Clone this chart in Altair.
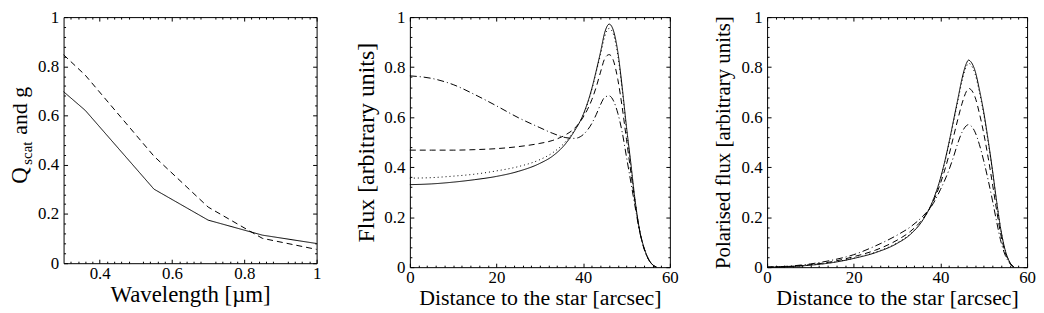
import altair as alt
import pandas as pd

FONT = "Liberation Serif"
LABEL_SIZE = 17

# ---------------- Panel 1: Q_scat and g vs wavelength ----------------
wavelength = [0.30, 0.36, 0.55, 0.70, 0.85, 1.00]
q_scat = [0.697, 0.621, 0.301, 0.175, 0.114, 0.080]
g_param = [0.847, 0.764, 0.435, 0.228, 0.101, 0.056]

# ---------------- Panel 2: Flux vs distance ----------------
dist_flux = [0, 5, 10, 15, 20, 25, 30, 33, 36, 38, 40, 42, 43, 44, 45, 46, 47,
             48, 49, 50, 51, 52, 53, 54, 55, 56, 57]
flux_solid = [0.330, 0.333, 0.340, 0.350, 0.363, 0.383, 0.415, 0.445, 0.495, 0.545,
              0.610, 0.715, 0.785, 0.860, 0.940, 0.972, 0.945, 0.860, 0.720, 0.560,
              0.415, 0.265, 0.150, 0.080, 0.035, 0.010, 0.000]
flux_dotted = [0.356, 0.358, 0.364, 0.372, 0.385, 0.402, 0.430, 0.458, 0.503, 0.548,
               0.608, 0.710, 0.780, 0.850, 0.925, 0.955, 0.930, 0.845, 0.710, 0.550,
               0.405, 0.260, 0.148, 0.078, 0.034, 0.010, 0.000]
flux_dashed = [0.468, 0.468, 0.468, 0.470, 0.474, 0.482, 0.495, 0.507, 0.530, 0.555,
               0.600, 0.670, 0.720, 0.780, 0.835, 0.850, 0.825, 0.750, 0.640, 0.510,
               0.380, 0.255, 0.148, 0.078, 0.034, 0.010, 0.000]
flux_dashdot = [0.765, 0.755, 0.730, 0.690, 0.645, 0.598, 0.558, 0.535, 0.518, 0.515,
                0.530, 0.575, 0.610, 0.650, 0.680, 0.685, 0.665, 0.615, 0.540, 0.440,
                0.340, 0.240, 0.145, 0.076, 0.033, 0.010, 0.000]

# ---------------- Panel 3: Polarised flux vs distance ----------------
dist_pol = [0, 5, 10, 15, 20, 25, 30, 33, 36, 38, 40, 42, 43, 44, 45, 46, 46.5, 47,
            48, 49, 50, 51, 52, 53, 54, 55, 56, 57]
pol_solid = [0.000, 0.002, 0.008, 0.018, 0.035, 0.058, 0.095, 0.130, 0.190, 0.255,
             0.355, 0.500, 0.585, 0.670, 0.755, 0.815, 0.828, 0.822, 0.785, 0.710,
             0.620, 0.510, 0.390, 0.260, 0.145, 0.065, 0.020, 0.000]
pol_dotted = [0.000, 0.002, 0.008, 0.019, 0.036, 0.060, 0.097, 0.132, 0.191, 0.255,
              0.352, 0.495, 0.578, 0.662, 0.745, 0.803, 0.815, 0.810, 0.773, 0.700,
              0.611, 0.503, 0.385, 0.257, 0.143, 0.064, 0.020, 0.000]
pol_dashed = [0.000, 0.003, 0.010, 0.022, 0.042, 0.068, 0.108, 0.142, 0.195, 0.250,
              0.335, 0.450, 0.520, 0.590, 0.655, 0.703, 0.715, 0.711, 0.680, 0.615,
              0.535, 0.440, 0.335, 0.225, 0.125, 0.057, 0.018, 0.000]
pol_dashdot = [0.000, 0.004, 0.013, 0.028, 0.050, 0.085, 0.128, 0.160, 0.205, 0.245,
               0.310, 0.390, 0.440, 0.495, 0.540, 0.566, 0.570, 0.566, 0.540, 0.490,
               0.425, 0.350, 0.268, 0.180, 0.100, 0.046, 0.015, 0.000]

# ---------------- Tick positions & labels ----------------
x1_major = [0.4, 0.6, 0.8, 1.0]
x1_minor = [0.32, 0.34, 0.36, 0.38, 0.42, 0.44, 0.46, 0.48, 0.52, 0.54, 0.56, 0.58,
            0.62, 0.64, 0.66, 0.68, 0.72, 0.74, 0.76, 0.78, 0.82, 0.84, 0.86, 0.88,
            0.92, 0.94, 0.96, 0.98]
x2_major = [0, 20, 40, 60]
x2_minor = [2, 4, 6, 8, 10, 12, 14, 16, 18, 22, 24, 26, 28, 30, 32, 34, 36, 38,
            42, 44, 46, 48, 50, 52, 54, 56, 58]
y_major = [0, 0.2, 0.4, 0.6, 0.8, 1.0]
y_minor = [0.04, 0.08, 0.12, 0.16, 0.24, 0.28, 0.32, 0.36, 0.44, 0.48, 0.52, 0.56,
           0.64, 0.68, 0.72, 0.76, 0.84, 0.88, 0.92, 0.96]

ytitle1_parts = ["Q", "scat", "and g"]
xtitle1 = "Wavelength [\u00b5m]"
xtitle23 = "Distance to the star [arcsec]"
ytitle2 = "Flux [arbitrary units]"
ytitle3 = "Polarised flux [arbitrary units]"

series_names = ["solid", "dotted", "dashed", "dashdot"]
dash_styles = [[1, 0], [1, 3], [6, 4], [7, 3, 1, 3]]


def long_frame(xs, series):
    rows = []
    for name, ys in series:
        for xv, yv in zip(xs, ys):
            rows.append({"x": xv, "y": yv, "series": name})
    return pd.DataFrame(rows)


df1 = long_frame(wavelength, [("solid", q_scat), ("dashed", g_param)])
df2 = long_frame(dist_flux, [("solid", flux_solid), ("dotted", flux_dotted),
                             ("dashed", flux_dashed), ("dashdot", flux_dashdot)])
df3 = long_frame(dist_pol, [("solid", pol_solid), ("dotted", pol_dotted),
                            ("dashed", pol_dashed), ("dashdot", pol_dashdot)])


def axis(orient, values, size, labels, title=None, title_size=22,
         label_pad=4, title_pad=0):
    kw = dict(orient=orient, values=values, tickSize=size, offset=-size,
              domain=False, grid=False, ticks=True, tickColor="black",
              tickWidth=1, labels=labels, labelFlush=False, labelOverlap=False,
              format="~r", labelFont=FONT, labelFontSize=LABEL_SIZE,
              labelColor="black", labelPadding=label_pad,
              titleFont=FONT, titleFontSize=title_size, titleFontWeight="normal",
              titleColor="black", titlePadding=title_pad, title=title)
    return alt.Axis(**kw)


def panel(df, xdom, x_major, x_minor, xtitle, xtitle_size, ytitle, ytitle_size,
          ytitle_pad, w, h, interp, extra=()):
    xs = alt.Scale(domain=xdom, nice=False, zero=False)
    ys = alt.Scale(domain=[0, 1], nice=False, zero=False)
    base = alt.Chart(df)
    lines = base.mark_line(color="black", strokeWidth=1, interpolate=interp).encode(
        x=alt.X("x:Q", scale=xs,
                axis=axis("bottom", x_major, 4, True, xtitle, title_size=xtitle_size,
                          label_pad=2, title_pad=3)),
        y=alt.Y("y:Q", scale=ys,
                axis=axis("left", y_major, 4, True, ytitle, title_size=ytitle_size,
                          label_pad=5, title_pad=ytitle_pad)),
        strokeDash=alt.StrokeDash("series:N",
                                  scale=alt.Scale(domain=series_names, range=dash_styles),
                                  legend=None),
    )
    top_major = base.mark_point(opacity=0, size=1).encode(
        x=alt.X("x:Q", scale=xs, axis=axis("top", x_major, 4, False)),
        y=alt.Y("y:Q", scale=ys, axis=axis("right", y_major, 4, False)),
    )
    bot_minor = base.mark_point(opacity=0, size=1).encode(
        x=alt.X("x:Q", scale=xs, axis=axis("bottom", x_minor, 2, False)),
        y=alt.Y("y:Q", scale=ys, axis=axis("left", y_minor, 2, False)),
    )
    top_minor = base.mark_point(opacity=0, size=1).encode(
        x=alt.X("x:Q", scale=xs, axis=axis("top", x_minor, 2, False)),
        y=alt.Y("y:Q", scale=ys, axis=axis("right", y_minor, 2, False)),
    )
    return alt.layer(lines, top_major, bot_minor, top_minor, *extra).resolve_axis(
        x="independent", y="independent"
    ).properties(width=w, height=h)


W1, H1 = 255, 248
W2, H2 = 262, 252
W3, H3 = 262, 252

# Rotated y title of panel 1 with a subscript (Q_scat and g)
title_q = alt.Chart(pd.DataFrame({"t": [ytitle1_parts[0]]})).mark_text(
    angle=270, align="left", baseline="alphabetic", font=FONT, fontSize=23, color="black"
).encode(text="t:N", x=alt.value(-37), y=alt.value(H1 * 0.677))
title_sub = alt.Chart(pd.DataFrame({"t": [ytitle1_parts[1]]})).mark_text(
    angle=270, align="left", baseline="alphabetic", font=FONT, fontSize=15, color="black"
).encode(text="t:N", x=alt.value(-32), y=alt.value(H1 * 0.60))
title_rest = alt.Chart(pd.DataFrame({"t": [ytitle1_parts[2]]})).mark_text(
    angle=270, align="left", baseline="alphabetic", font=FONT, fontSize=22, color="black"
).encode(text="t:N", x=alt.value(-37), y=alt.value(H1 * 0.478))

p1 = panel(df1, [0.3, 1.0], x1_major, x1_minor, xtitle1, 23, None, 22, 5,
           W1, H1, "linear", extra=(title_q, title_sub, title_rest))
p2 = panel(df2, [0, 60], x2_major, x2_minor, xtitle23, 22, ytitle2, 24, 5,
           W2, H2, "monotone")
p3 = panel(df3, [0, 60], x2_major, x2_minor, xtitle23, 22, ytitle3, 21, 8,
           W3, H3, "monotone")

chart = alt.hconcat(p1, p2, p3, spacing=33).properties(
    padding={"left": 0, "top": -2, "right": 0, "bottom": 0}
).configure_view(stroke="black", strokeWidth=1)

chart.save("out.html", embed_options={"renderer": "svg", "actions": False})
